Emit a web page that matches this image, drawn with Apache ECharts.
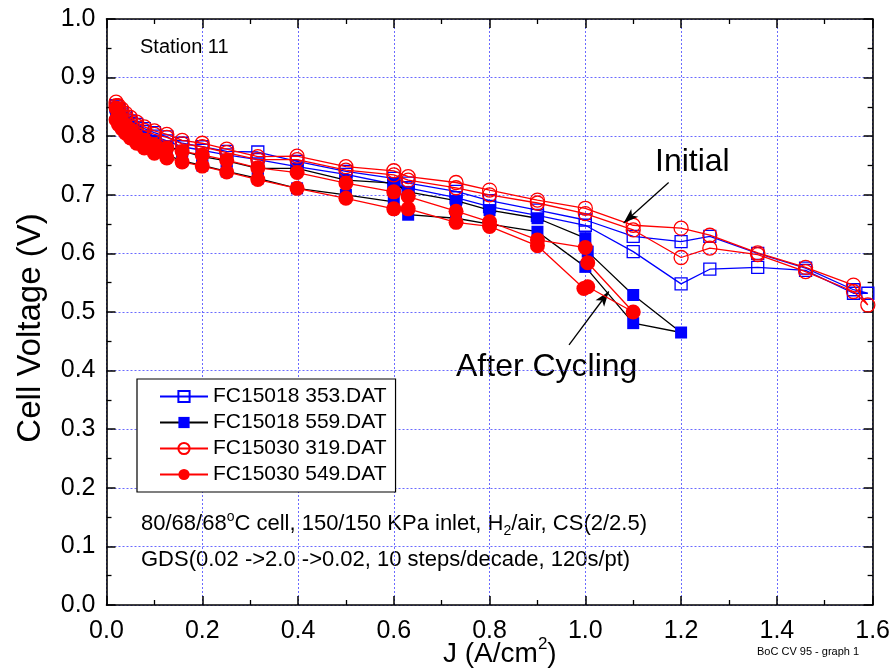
<!DOCTYPE html>
<html>
<head>
<meta charset="utf-8">
<script src="https://cdn.jsdelivr.net/npm/echarts@6/dist/echarts.min.js"></script>
<style>
html,body{margin:0;padding:0;background:#fff;}
#chart{width:893px;height:672px;}
</style>
</head>
<body>
<div id="chart"></div>
<script>
// ---- Data (J in A/cm2, V in volts), in sweep order ----
const J_ASC = [0.02,0.025,0.032,0.04,0.05,0.063,0.079,0.1,0.126,0.158,0.2,0.251,0.316,0.398,0.5,0.6,0.63,0.73,0.8,0.9,1.0,1.1,1.2,1.26,1.36,1.46,1.56,1.59];
const J_DESC = [1.56,1.46,1.36,1.26,1.2,1.1,1.0,0.9,0.8,0.73,0.63,0.6,0.5,0.398,0.316,0.251,0.2,0.158,0.126,0.1,0.079,0.063,0.05,0.04,0.032,0.025,0.02];

const V_353_ASC = [0.852,0.846,0.840,0.833,0.826,0.820,0.813,0.806,0.799,0.788,0.782,0.774,0.773,0.757,0.740,0.728,0.720,0.706,0.690,0.674,0.657,0.629,0.620,0.629,0.600,0.575,0.538,0.532];
const V_353_DESC = [0.532,0.571,0.576,0.573,0.548,0.603,0.648,0.665,0.680,0.695,0.712,0.718,0.735,0.748,0.760,0.768,0.776,0.782,0.792,0.800,0.808,0.815,0.822,0.829,0.836,0.843,0.850];

const V_319_ASC = [0.858,0.852,0.846,0.839,0.832,0.824,0.816,0.809,0.803,0.793,0.788,0.778,0.765,0.766,0.748,0.741,0.731,0.721,0.708,0.691,0.677,0.648,0.643,0.631,0.601,0.576,0.546,0.512];
const V_319_DESC = [0.535,0.569,0.598,0.609,0.593,0.640,0.668,0.686,0.700,0.712,0.725,0.734,0.742,0.760,0.760,0.772,0.782,0.787,0.798,0.803,0.810,0.818,0.825,0.832,0.839,0.846,0.852];

const J_559 = [0.02,0.025,0.032,0.04,0.05,0.063,0.079,0.1,0.126,0.158,0.2,0.251,0.316,0.398,0.5,0.6,0.63,0.73,0.8,0.9,1.0,1.005,1.1,1.2,1.1,1.0,0.9,0.8,0.73,0.63,0.6,0.5,0.398,0.316,0.251,0.2,0.158,0.126,0.1,0.079,0.063,0.05,0.04,0.032,0.025,0.02];
const V_559 = [0.848,0.840,0.832,0.825,0.817,0.810,0.800,0.792,0.783,0.775,0.765,0.758,0.745,0.745,0.725,0.720,0.705,0.690,0.674,0.660,0.626,0.603,0.529,0.465,0.481,0.577,0.637,0.650,0.660,0.666,0.688,0.700,0.711,0.728,0.740,0.750,0.758,0.768,0.776,0.784,0.793,0.801,0.808,0.816,0.824,0.833];

const J_549 = [0.02,0.025,0.032,0.04,0.05,0.063,0.079,0.1,0.126,0.158,0.2,0.251,0.316,0.398,0.5,0.6,0.63,0.73,0.8,0.9,1.0,1.005,1.1,1.005,0.997,0.9,0.8,0.73,0.63,0.6,0.5,0.398,0.316,0.251,0.2,0.158,0.126,0.1,0.079,0.063,0.05,0.04,0.032,0.025,0.02];
const V_549 = [0.848,0.838,0.827,0.818,0.810,0.800,0.793,0.785,0.780,0.774,0.768,0.759,0.746,0.738,0.720,0.705,0.697,0.672,0.654,0.623,0.610,0.584,0.500,0.543,0.540,0.613,0.646,0.653,0.676,0.676,0.694,0.711,0.726,0.739,0.749,0.756,0.763,0.771,0.780,0.788,0.797,0.805,0.813,0.820,0.828];

const SERIES_NAMES = ['FC15018 353.DAT','FC15018 559.DAT','FC15030 319.DAT','FC15030 549.DAT'];
const X_TICKS = [0,0.2,0.4,0.6,0.8,1.0,1.2,1.4,1.6];
const Y_TICKS = [0,0.1,0.2,0.3,0.4,0.5,0.6,0.7,0.8,0.9,1.0];
// annotation arrows [start, tip] in data units
const ARROW_INITIAL = [[1.174,0.721],[1.080,0.652]];
const ARROW_CYCLING = [[0.966,0.444],[1.049,0.535]];

function zip(a,b){ return a.map((x,i)=>[x,b[i]]); }

const FONT = '"Liberation Sans", Arial, sans-serif';
const chart = echarts.init(document.getElementById('chart'), null, {renderer:'canvas'});

const axisCommon = {
  axisLine:{show:true, onZero:false, lineStyle:{color:'#000', width:1.6}},
  axisTick:{show:true, inside:true, length:9, lineStyle:{color:'#000', width:1.5}},
  minorTick:{show:true, splitNumber:2, length:5, lineStyle:{color:'#000', width:1.3}},
};

function arrowLine(pts){
  return {
    silent:true,
    symbol:['none','arrow'],
    symbolSize:[8,15],
    label:{show:false},
    lineStyle:{color:'#000', width:1.3, type:'solid'},
    emphasis:{disabled:true},
    data:[[{coord:pts[0]},{coord:pts[1]}]]
  };
}

const option = {
  animation:false,
  backgroundColor:'#fff',
  grid:{left:106.5, right:18.5, top:19, bottom:67, containLabel:false},
  xAxis:[
    Object.assign({type:'value', min:0, max:1.6, interval:0.2, position:'bottom',
      axisLabel:{show:true, margin:14, fontSize:25, color:'#000', fontFamily:FONT, formatter:v=>v.toFixed(1)},
      splitLine:{show:true, lineStyle:{color:'#6a6aff', width:1, type:[2,2]}}}, axisCommon),
    Object.assign({type:'value', min:0, max:1.6, interval:0.2, position:'top',
      axisLabel:{show:false}, splitLine:{show:false}}, axisCommon)
  ],
  yAxis:[
    Object.assign({type:'value', min:0, max:1.0, interval:0.1, position:'left',
      axisLabel:{show:true, margin:11, fontSize:25, color:'#000', fontFamily:FONT, formatter:v=>v.toFixed(1)},
      splitLine:{show:true, lineStyle:{color:'#6a6aff', width:1, type:[2,2]}}}, axisCommon),
    Object.assign({type:'value', min:0, max:1.0, interval:0.1, position:'right',
      axisLabel:{show:false}, splitLine:{show:false}}, axisCommon)
  ],
  legend:{
    show:true, orient:'vertical', left:137, top:379,
    backgroundColor:'#fff', borderColor:'#000', borderWidth:1.2,
    padding:[7,9,7,22], itemGap:5, itemWidth:48, itemHeight:14,
    textStyle:{fontSize:21, color:'#000', fontFamily:FONT},
    data:SERIES_NAMES
  },
  series:[
    {name:SERIES_NAMES[0], type:'line', data:zip(J_ASC.concat(J_DESC), V_353_ASC.concat(V_353_DESC)),
     symbol:'rect', symbolSize:12, showAllSymbol:true,
     lineStyle:{color:'#0000ff', width:1.3},
     itemStyle:{color:'rgba(255,255,255,0)', borderColor:'#0000ff', borderWidth:1.3}, z:2},
    {name:SERIES_NAMES[1], type:'line', data:zip(J_559, V_559),
     symbol:'rect', symbolSize:12, showAllSymbol:true,
     lineStyle:{color:'#000000', width:1.3},
     itemStyle:{color:'#0000ff', borderColor:'#0000ff', borderWidth:0}, z:3},
    {name:SERIES_NAMES[2], type:'line', data:zip(J_ASC.concat(J_DESC), V_319_ASC.concat(V_319_DESC)),
     symbol:'circle', symbolSize:14, showAllSymbol:true,
     lineStyle:{color:'#ff0000', width:1.3},
     itemStyle:{color:'rgba(255,255,255,0)', borderColor:'#ff0000', borderWidth:1.3}, z:4,
     markLine:arrowLine(ARROW_INITIAL)},
    {name:SERIES_NAMES[3], type:'line', data:zip(J_549, V_549),
     symbol:'circle', symbolSize:15, showAllSymbol:true,
     lineStyle:{color:'#ff0000', width:1.3},
     itemStyle:{color:'#ff0000', borderWidth:0}, z:5,
     markLine:arrowLine(ARROW_CYCLING)}
  ],
  graphic:[
    {type:'text', left:140, top:37, style:{text:'Station 11', font:'20px '+FONT, fill:'#000'}},
    {type:'text', left:655, top:146, style:{text:'Initial', font:'32px '+FONT, fill:'#000'}},
    {type:'text', left:456, top:351, style:{text:'After Cycling', font:'32px '+FONT, fill:'#000'}},
    {type:'text', left:141, top:510, style:{
      text:'{a|80/68/68}{sup|o}{a|C cell, 150/150 KPa inlet, H}{sub|2}{a|/air, CS(2/2.5)}',
      rich:{
        a:{fontSize:22, fontFamily:FONT, fill:'#000', lineHeight:28, verticalAlign:'middle'},
        sup:{fontSize:14, fontFamily:FONT, fill:'#000', lineHeight:28, verticalAlign:'top'},
        sub:{fontSize:14, fontFamily:FONT, fill:'#000', lineHeight:28, verticalAlign:'bottom'}
      }}},
    {type:'text', left:141, top:549, style:{text:'GDS(0.02 ->2.0 ->0.02, 10 steps/decade, 120s/pt)', font:'22px '+FONT, fill:'#000'}},
    {type:'text', left:757, top:646, style:{text:'BoC CV 95 - graph 1', font:'11px '+FONT, fill:'#000'}},
    {type:'text', left:443, top:636, style:{
      text:'{a|J (A/cm}{sup|2}{a|)}',
      rich:{
        a:{fontSize:28, fontFamily:FONT, fill:'#000', lineHeight:36, verticalAlign:'middle'},
        sup:{fontSize:17, fontFamily:FONT, fill:'#000', lineHeight:36, verticalAlign:'top'}
      }}},
    {type:'text', x:31, y:328, rotation:Math.PI/2,
     style:{text:'Cell Voltage (V)', font:'33px '+FONT, fill:'#000', align:'center', verticalAlign:'middle'}}
  ]
};
chart.setOption(option);
</script>
</body>
</html>
